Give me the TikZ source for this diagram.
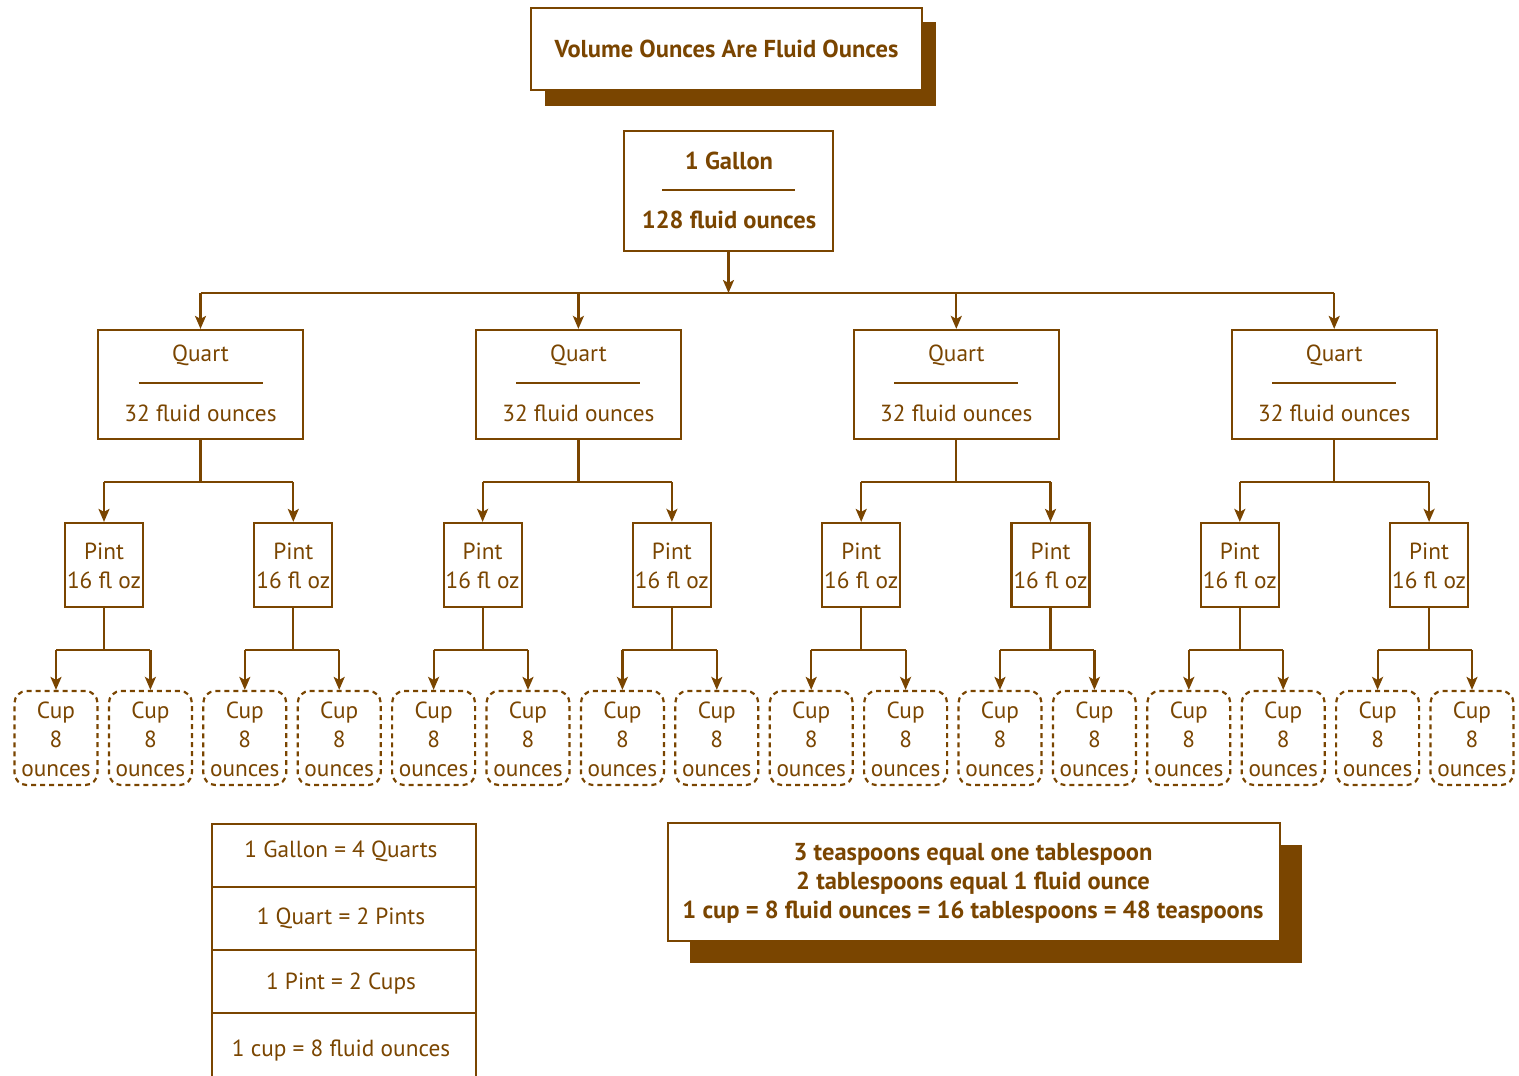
\documentclass[tikz,border=0pt]{standalone}
\usepackage{fontspec}
\setmainfont{PT Sans}
\usetikzlibrary{arrows.meta,calc}
\definecolor{br}{RGB}{122,69,0}
\begin{document}
\begin{tikzpicture}[x=1pt,y=-1pt,
  every node/.style={text=br,inner sep=0pt,font=\fontsize{23.3}{29}\selectfont},
  ln/.style={draw=br,line width=2.2pt},
  arr/.style={ln,-{Stealth[length=13pt,width=11pt,inset=3pt]}},
  sbox/.style={draw=br,line width=2.2pt,fill=white},
  cupbox/.style={draw=br,line width=2.2pt,dash pattern=on 5pt off 4pt,rounded corners=12pt,minimum width=83pt,minimum height=94pt},
  bold/.style={font=\fontsize{24.5}{29}\selectfont\bfseries}]
\useasboundingbox (0,0) rectangle (1519,1076);
% title
\fill[br] (545,22) rectangle (936,106);
\node[sbox,line width=1.5pt,minimum width=391pt,minimum height=82pt,bold] (title) at (726.5,49) {Volume Ounces Are Fluid Ounces};
% gallon
\node[sbox,minimum width=209pt,minimum height=120pt] (gal) at (728.5,191) {};
\node[bold] (galA) at (729,161) {1 Gallon};
\node[bold] (galB) at (729,220) {128 fluid ounces};
\draw[ln] (662,190) -- (795,190);
\coordinate (hub) at (728.5,293);
\draw[arr] (gal.south) -- (gal.south |- hub);
% quarts
\foreach \i in {1,...,4}{
  \pgfmathsetmacro{\qx}{200.5+377.9*(\i-1)}
  \node[sbox,minimum width=205pt,minimum height=109pt] (q\i) at (\qx,384.5) {};
  \node (qa\i) at (\qx,355) {Quart};
  \node (qb\i) at (\qx,413) {32 fluid ounces};
  \draw[ln] (\qx-62,383) -- (\qx+62,383);
  \draw[arr] (q\i.north |- hub) -- (q\i.north);
}
\draw[ln] (q1.north |- hub) -- (q4.north |- hub);
% pints
\foreach \j in {1,...,8}{
  \pgfmathsetmacro{\px}{104+189.3*(\j-1)}
  \node[sbox,minimum width=78pt,minimum height=84pt] (p\j) at (\px,565) {};
  \node[align=center] (pl\j) at (\px,566) {Pint\\16 fl oz};
}
\foreach \i/\a/\b in {1/1/2,2/3/4,3/5/6,4/7/8}{
  \coordinate (qm\i) at ($(q\i.south)+(0,42)$);
  \draw[ln] (q\i.south) -- (qm\i);
  \draw[ln] (p\a.north |- qm\i) -- (p\b.north |- qm\i);
  \draw[arr] (p\a.north |- qm\i) -- (p\a.north);
  \draw[arr] (p\b.north |- qm\i) -- (p\b.north);
}
% cups
\foreach \k in {1,...,16}{
  \pgfmathsetmacro{\cx}{56+94.4*(\k-1)}
  \node[cupbox] (c\k) at (\cx,738) {};
  \node[align=center,fill=white,inner xsep=1pt] (cl\k) at (\cx,739) {Cup\\8\\ounces};
}
\foreach \j/\a/\b in {1/1/2,2/3/4,3/5/6,4/7/8,5/9/10,6/11/12,7/13/14,8/15/16}{
  \coordinate (pm\j) at ($(p\j.south)+(0,42)$);
  \draw[ln] (p\j.south) -- (pm\j);
  \draw[ln] (c\a.north |- pm\j) -- (c\b.north |- pm\j);
  \draw[arr] (c\a.north |- pm\j) -- (c\a.north);
  \draw[arr] (c\b.north |- pm\j) -- (c\b.north);
}
% table
\draw[ln] (212,1076) -- (212,824) -- (476,824) -- (476,1076);
\draw[ln] (212,887) -- (476,887);
\draw[ln] (212,950) -- (476,950);
\draw[ln] (212,1013) -- (476,1013);
\node (t1) at (341,851) {1 Gallon = 4 Quarts};
\node (t2) at (341,918) {1 Quart = 2 Pints};
\node (t3) at (341,984) {1 Pint = 2 Cups};
\node (t4) at (341,1051) {1 cup = 8 fluid ounces};
% note box
\fill[br] (690,845) rectangle (1302,963);
\node[sbox,minimum width=612pt,minimum height=118pt] (note) at (974,882) {};
\node[bold,align=center] (notet) at (973,883) {3 teaspoons equal one tablespoon\\2 tablespoons equal 1 fluid ounce\\1 cup = 8 fluid ounces = 16 tablespoons = 48 teaspoons};
\end{tikzpicture}
\end{document}
